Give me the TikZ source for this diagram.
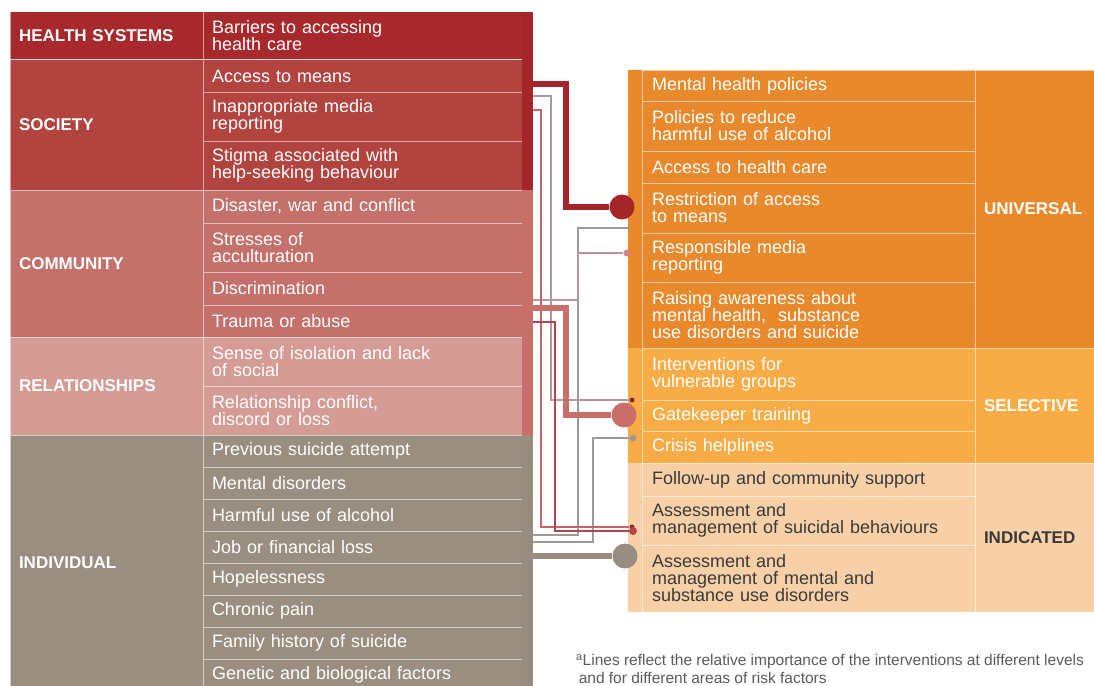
\documentclass[tikz,border=0pt]{standalone}
\usepackage{fontspec}
\setmainfont{Liberation Sans}
\usepackage{xcolor}
\usetikzlibrary{positioning, calc}

\definecolor{hsred}{HTML}{A7292C}
\definecolor{socred}{HTML}{B1443F}
\definecolor{comred}{HTML}{C3716A}
\definecolor{relpink}{HTML}{D49C94}
\definecolor{indgray}{HTML}{9A8E81}
\definecolor{univor}{HTML}{E8892C}
\definecolor{selor}{HTML}{F8AC46}
\definecolor{indpeach}{HTML}{F8D0A7}
\definecolor{darktxt}{HTML}{3A3A3A}
\definecolor{notegray}{HTML}{5A5A5A}
\definecolor{lnred}{HTML}{A5262A}
\definecolor{lnpink}{HTML}{C86F69}
\definecolor{lngray}{HTML}{998C80}
\definecolor{thinred}{HTML}{C8646A}
\definecolor{thindark}{HTML}{B5454A}
\definecolor{thinmauve}{HTML}{B3979C}
\definecolor{thingray}{HTML}{A09A97}
\definecolor{dotred}{HTML}{8F2426}
\definecolor{dotpink}{HTML}{D6868B}

\tikzset{
  grphead/.style={draw=white, draw opacity=0.55, line width=1pt, anchor=north west,
                  text width=175pt, inner xsep=9pt, inner ysep=0pt, outer sep=0pt,
                  align=left, text=white, font=\bfseries\fontsize{17}{17}\selectfont},
  riskitem/.style={draw=white, draw opacity=0.55, line width=1pt, minimum height=32pt,
                   text width=301pt, inner xsep=9pt, inner ysep=0pt, outer sep=0pt,
                   align=left, text=white, font=\fontsize{18}{17}\selectfont},
  actitem/.style={riskitem, text width=313pt, inner xsep=10pt},
  lvlhead/.style={grphead, text width=112pt},
  thickln/.style={line width=5.5pt},
  thinln/.style={line width=1.4pt},
  bigdot/.style={circle, inner sep=0pt, minimum size=25pt},
  smalldot/.style={circle, inner sep=0pt, minimum size=5pt}
}

\begin{document}
\begin{tikzpicture}[x=1pt, y=-1pt]
  \path[use as bounding box, clip] (0,0) rectangle (1094,685);

  % HEALTH SYSTEMS
  \node[grphead, fill=hsred, minimum height=48pt] (hs) at (10,12) {HEALTH SYSTEMS};
  \node[riskitem, fill=hsred, minimum height=48pt, anchor=north west] (hs1) at (hs.north east)
    {Barriers to accessing\\health care};

  % SOCIETY
  \node[grphead, fill=socred, minimum height=130pt, below=0 of hs] (soc) {SOCIETY};
  \node[riskitem, fill=socred, below=0 of hs1] (soc1) {Access to means};
  \node[riskitem, fill=socred, minimum height=49pt, below=0 of soc1] (soc2)
    {Inappropriate media\\reporting};
  \node[riskitem, fill=socred, minimum height=49pt, below=0 of soc2] (soc3)
    {Stigma associated with\\help-seeking behaviour};

  % COMMUNITY
  \node[grphead, fill=comred, minimum height=147pt, below=0 of soc] (com) {COMMUNITY};
  \node[riskitem, fill=comred, minimum height=33pt, below=0 of soc3] (com1) {Disaster, war and conflict};
  \node[riskitem, fill=comred, minimum height=49pt, below=0 of com1] (com2) {Stresses of\\acculturation};
  \node[riskitem, fill=comred, minimum height=33pt, below=0 of com2] (com3) {Discrimination};
  \node[riskitem, fill=comred, below=0 of com3] (com4) {Trauma or abuse};

  % RELATIONSHIPS
  \node[grphead, fill=relpink, minimum height=98pt, below=0 of com] (rel) {RELATIONSHIPS};
  \node[riskitem, fill=relpink, minimum height=49pt, below=0 of com4] (rel1)
    {Sense of isolation and lack\\of social};
  \node[riskitem, fill=relpink, minimum height=49pt, below=0 of rel1] (rel2)
    {Relationship conflict,\\discord or loss};

  % INDIVIDUAL
  \node[grphead, fill=indgray, minimum height=256pt, below=0 of rel] (ind) {INDIVIDUAL};
  \node[riskitem, fill=indgray, below=0 of rel2] (ind1) {Previous suicide attempt};
  \node[riskitem, fill=indgray, below=0 of ind1] (ind2) {Mental disorders};
  \node[riskitem, fill=indgray, below=0 of ind2] (ind3) {Harmful use of alcohol};
  \node[riskitem, fill=indgray, below=0 of ind3] (ind4) {Job or financial loss};
  \node[riskitem, fill=indgray, below=0 of ind4] (ind5) {Hopelessness};
  \node[riskitem, fill=indgray, below=0 of ind5] (ind6) {Chronic pain};
  \node[riskitem, fill=indgray, below=0 of ind6] (ind7) {Family history of suicide};
  \node[riskitem, fill=indgray, below=0 of ind7] (ind8) {Genetic and biological factors};

  % trunk strips
  \fill[lnred] (hs1.north east) rectangle ($(soc3.south east)+(11,0)$);
  \fill[lnpink] (com1.north east) rectangle ($(rel2.south east)+(11,0)$);
  \fill[lngray] (ind1.north east) rectangle ($(ind8.south east)+(11,0)$);

  % UNIVERSAL
  \node[actitem, fill=univor, minimum height=31pt, anchor=north west] (u1) at (642,70)
    {Mental health policies};
  \node[actitem, fill=univor, minimum height=50pt, below=0 of u1] (u2)
    {Policies to reduce\\harmful use of alcohol};
  \node[actitem, fill=univor, below=0 of u2] (u3) {Access to health care};
  \node[actitem, fill=univor, minimum height=50pt, below=0 of u3] (u4)
    {Restriction of access\\to means};
  \node[actitem, fill=univor, minimum height=49pt, below=0 of u4] (u5)
    {Responsible media\\reporting};
  \node[actitem, fill=univor, minimum height=66pt, below=0 of u5] (u6)
    {Raising awareness about\\mental health, \ substance\\use disorders and suicide};
  \node[lvlhead, fill=univor, minimum height=278pt] (univ) at (u1.north east) {UNIVERSAL};
  \fill[univor] ($(u1.north west)+(-14,0)$) rectangle (u6.south west);

  % SELECTIVE
  \node[actitem, fill=selor, minimum height=52pt, below=0 of u6] (s1)
    {Interventions for\\vulnerable groups};
  \node[actitem, fill=selor, minimum height=31pt, below=0 of s1] (s2) {Gatekeeper training};
  \node[actitem, fill=selor, below=0 of s2] (s3) {Crisis helplines};
  \node[lvlhead, fill=selor, minimum height=115pt] (sel) at (s1.north east) {SELECTIVE};
  \fill[selor] ($(s1.north west)+(-14,0)$) rectangle (s3.south west);

  % INDICATED
  \node[actitem, fill=indpeach, text=darktxt, minimum height=33pt, below=0 of s3] (i1)
    {Follow-up and community support};
  \node[actitem, fill=indpeach, text=darktxt, minimum height=49pt, below=0 of i1] (i2)
    {Assessment and\\management of suicidal behaviours};
  \node[actitem, fill=indpeach, text=darktxt, minimum height=67pt, below=0 of i2] (i3)
    {Assessment and\\management of mental and\\substance use disorders};
  \node[lvlhead, fill=indpeach, text=darktxt, minimum height=149pt] (indc) at (i1.north east)
    {INDICATED};
  \fill[indpeach] ($(i1.north west)+(-14,0)$) rectangle (i3.south west);

  % end dots
  \node[bigdot, fill=lnred] (restr) at (622,207) {};
  \node[bigdot, fill=lnpink] (gate) at (624,415) {};
  \node[bigdot, fill=lngray] (amh) at (625,556) {};
  \node[smalldot, fill=dotred] (gtop) at (632,400) {};
  \node[smalldot, fill=dotred] (asb1) at (632,527) {};
  \node[smalldot, fill=dotpink, minimum size=7pt] (media) at (627,253) {};
  \node[smalldot, fill=thindark, minimum size=8pt] (asb2) at (633,531) {};
  \node[smalldot, fill=thingray, minimum size=7pt] (crisis) at (633,438) {};

  % connectors
  \coordinate (a1) at (533,84);  \coordinate (k1) at (566,84);
  \coordinate (a2) at (533,96);  \coordinate (k2) at (551,96);
  \coordinate (a3) at (533,110); \coordinate (k3) at (541,110);
  \coordinate (a4) at (533,300); \coordinate (k4) at (578,300);
  \coordinate (a5) at (533,308); \coordinate (k5) at (566,308);
  \coordinate (a6) at (533,322); \coordinate (k6) at (555,322);
  \coordinate (a7) at (533,535); \coordinate (k7) at (578,535);
  \coordinate (a8) at (533,542); \coordinate (k8) at (593,542);
  \coordinate (a9) at (533,556);
  \coordinate (e7) at (629,228);

  \draw[thinln, thingray] (a7) -- (k7) |- (e7);
  \draw[thinln, thinmauve] (a4) -- (k4) |- (media);
  \draw[thinln, thingray] (a8) -- (k8) |- (crisis);
  \draw[thinln, thinmauve] (a2) -- (k2) |- (gtop);
  \draw[thinln, thinred] (a3) -- (k3) |- (asb1);
  \draw[thinln, thindark] (a6) -- (k6) |- (asb2);
  \draw[thickln, lnred] (a1) -- (k1) |- (restr);
  \draw[thickln, lnpink] (a5) -- (k5) |- (gate);
  \draw[thickln, lngray] (a9) -- (amh);

  % note
  \node[anchor=north west, inner sep=0pt, align=left, text=notegray,
        font=\fontsize{15.5}{18}\selectfont] (note) at (576,654)
    {\textsuperscript{a}Lines reflect the relative importance of the interventions at different levels\\
     \,and for different areas of risk factors};
\end{tikzpicture}
\end{document}
